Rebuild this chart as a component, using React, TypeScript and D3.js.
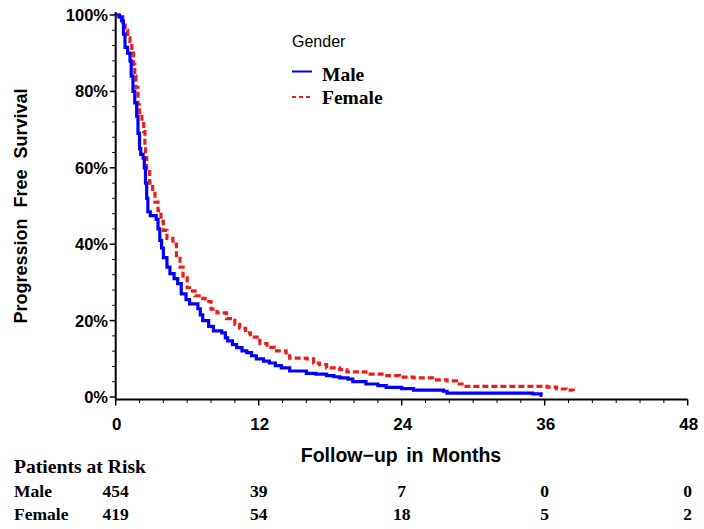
import React from "react";
import * as d3 from "d3";

// Kaplan–Meier estimates (months, survival proportion), step-after
const maleTimes = [0, 0.3, 0.5, 0.65, 0.78, 1.0, 1.2, 1.3, 1.45, 1.6, 1.76, 1.87, 2.0, 2.1, 2.3, 2.4, 2.5, 2.6, 2.7, 2.9, 3.4, 3.55, 3.7, 3.85, 4.0, 4.3, 4.55, 4.9, 5.2, 5.5, 5.9, 6.2, 6.9, 7.1, 7.3, 7.8, 8.2, 8.9, 9.2, 9.4, 9.8, 10.15, 10.6, 11.0, 11.4, 11.8, 12.4, 12.9, 13.4, 13.9, 14.6, 16.0, 16.8, 17.7, 18.3, 18.8, 19.5, 19.9, 21.0, 22.0, 22.7, 24.0, 25.0, 27.5, 27.8, 35.0, 35.7, 35.8];
const maleSurv = [1.0, 0.995, 0.985, 0.95, 0.915, 0.9, 0.88, 0.84, 0.8, 0.77, 0.735, 0.69, 0.65, 0.635, 0.625, 0.6, 0.56, 0.52, 0.485, 0.475, 0.465, 0.44, 0.41, 0.39, 0.365, 0.34, 0.323, 0.31, 0.297, 0.27, 0.255, 0.244, 0.231, 0.215, 0.2, 0.185, 0.173, 0.168, 0.155, 0.147, 0.137, 0.129, 0.121, 0.116, 0.108, 0.1, 0.094, 0.089, 0.082, 0.076, 0.068, 0.062, 0.06, 0.056, 0.053, 0.05, 0.047, 0.04, 0.034, 0.03, 0.025, 0.022, 0.018, 0.015, 0.01, 0.008, 0.004, 0.004];

const femaleTimes = [0, 0.3, 0.6, 0.8, 1.0, 1.2, 1.35, 1.5, 1.6, 1.7, 1.87, 2.0, 2.2, 2.35, 2.45, 2.5, 2.6, 2.85, 3.1, 3.3, 3.55, 3.8, 4.0, 4.3, 4.8, 5.1, 5.4, 5.65, 6.0, 6.2, 6.65, 7.0, 7.5, 8.0, 8.5, 9.3, 10.0, 10.4, 10.9, 11.3, 12.1, 12.7, 13.3, 14.3, 14.6, 16.0, 16.6, 17.1, 17.7, 18.8, 19.4, 21.0, 22.5, 23.8, 25.0, 26.6, 27.8, 28.6, 29.4, 36.2, 37.0, 37.8, 38.4];
const femaleSurv = [1.0, 0.995, 0.98, 0.96, 0.94, 0.93, 0.9, 0.87, 0.84, 0.81, 0.765, 0.74, 0.72, 0.695, 0.66, 0.627, 0.59, 0.56, 0.533, 0.51, 0.488, 0.46, 0.436, 0.415, 0.4, 0.37, 0.34, 0.312, 0.286, 0.278, 0.265, 0.258, 0.25, 0.23, 0.22, 0.205, 0.19, 0.18, 0.168, 0.157, 0.14, 0.13, 0.121, 0.108, 0.102, 0.1, 0.089, 0.085, 0.076, 0.072, 0.066, 0.06, 0.056, 0.052, 0.05, 0.045, 0.042, 0.034, 0.028, 0.026, 0.021, 0.018, 0.016];

const xTicks = [0, 12, 24, 36, 48];
const yTicks = [0, 0.2, 0.4, 0.6, 0.8, 1.0];
const riskGroups = ["Male", "Female"];
const maleAtRisk = [454, 39, 7, 0, 0];
const femaleAtRisk = [419, 54, 18, 5, 2];

const W = 704;
const H = 529;

export default function App() {
  const x = d3.scaleLinear().domain([0, 48]).range([115.7, 687.7]);
  const y = d3.scaleLinear().domain([0, 1]).range([397, 15]);
  const axisY = 399.5;

  const line = d3
    .line<[number, number]>()
    .x((d) => x(d[0]))
    .y((d) => y(d[1]))
    .curve(d3.curveStepAfter);

  const maleData: [number, number][] = maleTimes.map((t, i) => [t, maleSurv[i]]);
  const femaleData: [number, number][] = femaleTimes.map((t, i) => [t, femaleSurv[i]]);

  const xMinor = d3.range(0, 48.01, 2).filter((v) => v % 12 !== 0);
  const yMinor = d3.range(0, 1.001, 0.04).filter((v) => Math.abs((v * 100) % 20) > 0.5 && Math.abs((v * 100) % 20) < 19.5);

  const sans = "'Liberation Sans', Arial, sans-serif";
  const serif = "'Liberation Serif', 'Times New Roman', serif";
  const risks = [maleAtRisk, femaleAtRisk];

  return (
    <svg width={W} height={H} style={{ position: "absolute", left: 0, top: 0, background: "#fff" }}>
      {/* axes */}
      <line x1={x(0)} x2={x(0)} y1={y(1) - 3} y2={axisY} stroke="#000" strokeWidth={2} />
      <line x1={x(0)} x2={x(48)} y1={axisY} y2={axisY} stroke="#000" strokeWidth={2} />
      {yTicks.map((v) => (
        <g key={"yt" + v}>
          <line x1={x(0) - 6} x2={x(0)} y1={y(v)} y2={y(v)} stroke="#000" strokeWidth={1.5} />
          <text x={108} y={y(v) + 6} textAnchor="end" fontFamily={sans} fontWeight="bold" fontSize={16.5}>
            {Math.round(v * 100)}%
          </text>
        </g>
      ))}
      {yMinor.map((v) => (
        <line key={"ym" + v} x1={x(0) - 3.5} x2={x(0)} y1={y(v)} y2={y(v)} stroke="#000" strokeWidth={1} />
      ))}
      {xTicks.map((v) => (
        <g key={"xt" + v}>
          <line x1={x(v)} x2={x(v)} y1={axisY} y2={axisY + 6} stroke="#000" strokeWidth={1.5} />
          <text x={x(v) + 1} y={430} textAnchor="middle" fontFamily={sans} fontWeight="bold" fontSize={17}>
            {v}
          </text>
        </g>
      ))}
      {xMinor.map((v) => (
        <line key={"xm" + v} x1={x(v)} x2={x(v)} y1={axisY} y2={axisY + 3.5} stroke="#000" strokeWidth={1} />
      ))}

      {/* axis titles */}
      <text
        x={401}
        y={462}
        textAnchor="middle"
        fontFamily={sans}
        fontWeight="bold"
        fontSize={19.5}
        style={{ wordSpacing: "3px" }}
      >
        Follow−up in Months
      </text>
      <text
        transform="translate(27,206) rotate(-90)"
        textAnchor="middle"
        fontFamily={sans}
        fontWeight="bold"
        fontSize={18}
        style={{ wordSpacing: "6px" }}
      >
        Progression Free Survival
      </text>

      {/* survival curves */}
      <path d={line(femaleData) || ""} fill="none" stroke="#f01c1c" strokeWidth={3.2} strokeDasharray="6 3" />
      <path d={line(maleData) || ""} fill="none" stroke="#0000ff" strokeWidth={3.2} />

      {/* legend */}
      <text x={292} y={47} fontFamily={sans} fontSize={16}>
        Gender
      </text>
      <line x1={292} x2={312} y1={71.5} y2={71.5} stroke="#0000ff" strokeWidth={2} />
      <line x1={292} x2={312} y1={97} y2={97} stroke="#f01c1c" strokeWidth={2} strokeDasharray="4 3" />
      <text x={322} y={81} fontFamily={serif} fontWeight="bold" fontSize={19.5}>
        Male
      </text>
      <text x={322} y={104} fontFamily={serif} fontWeight="bold" fontSize={19.5}>
        Female
      </text>

      {/* patients at risk */}
      <text
        x={14}
        y={473}
        fontFamily={serif}
        fontWeight="bold"
        fontSize={18}
        textLength={132}
        lengthAdjust="spacingAndGlyphs"
      >
        Patients at Risk
      </text>
      {riskGroups.map((g, gi) => (
        <g key={g}>
          <text x={14} y={497 + gi * 23} fontFamily={serif} fontWeight="bold" fontSize={17.5}>
            {g}
          </text>
          {xTicks.map((t, ti) => (
            <text
              key={t}
              x={x(t)}
              y={497 + gi * 23}
              textAnchor="middle"
              fontFamily={serif}
              fontWeight="bold"
              fontSize={17.5}
            >
              {risks[gi][ti]}
            </text>
          ))}
        </g>
      ))}
    </svg>
  );
}
